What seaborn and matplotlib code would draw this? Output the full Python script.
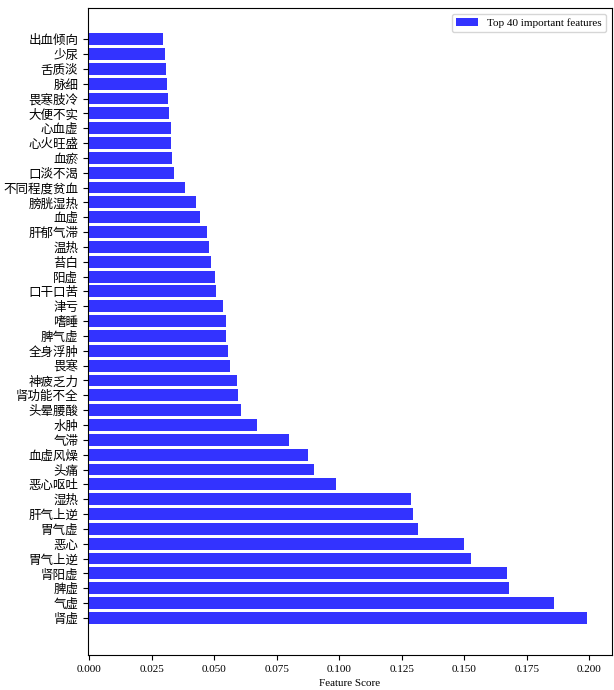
import matplotlib
matplotlib.use("Agg")
import matplotlib.pyplot as plt
import seaborn as sns
import pandas as pd

features = ["出血倾向","少尿","舌质淡","脉细","畏寒肢冷","大便不实","心血虚","心火旺盛","血瘀","口淡不渴",
            "不同程度贫血","膀胱湿热","血虚","肝郁气滞","温热","苔白","阳虚","口干口苦","津亏","嗜睡",
            "脾气虚","全身浮肿","畏寒","神疲乏力","肾功能不全","头晕腰酸","水肿","气滞","血虚风燥","头痛",
            "恶心呕吐","湿热","肝气上逆","胃气虚","恶心","胃气上逆","肾阳虚","脾虚","气虚","肾虚"]
scores = [0.0295,0.0304,0.0307,0.0310,0.0314,0.0318,0.0327,0.0328,0.0331,0.0338,
          0.0382,0.0425,0.0443,0.0470,0.0480,0.0487,0.0503,0.0507,0.0536,0.0547,
          0.0548,0.0555,0.0563,0.0590,0.0595,0.0607,0.0670,0.0799,0.0875,0.0900,
          0.0987,0.1288,0.1296,0.1314,0.1499,0.1527,0.1670,0.1680,0.1860,0.1990]

df = pd.DataFrame({"feature": features, "score": scores})

plt.rcParams["font.family"] = ["Liberation Serif", "Noto Sans CJK SC"]
fig = plt.figure(figsize=(6.14, 6.90), dpi=100)
ax = fig.add_axes([88/614, 35/690, (612-88)/614, (682-35)/690])
sns.barplot(data=df, x="score", y="feature", orient="h", color=(0.2, 0.2, 1.0),
            saturation=1, width=0.8, ax=ax, label="Top 40 important features")
ax.set_ylim(41.5, -2.1)
ax.set_xlim(-0.0005, 0.209)
ax.set_xticks([0, 0.025, 0.05, 0.075, 0.1, 0.125, 0.15, 0.175, 0.2])
ax.set_xticklabels(["0.000","0.025","0.050","0.075","0.100","0.125","0.150","0.175","0.200"], fontsize=8)
ax.set_xlabel("Feature Score", fontsize=8)
ax.set_ylabel("")
for t in ax.get_yticklabels():
    t.set_fontfamily("Noto Sans CJK SC")
    t.set_fontsize(9)
ax.legend(loc="upper right", fontsize=8, frameon=True)
fig.savefig("out.png", dpi=100)
